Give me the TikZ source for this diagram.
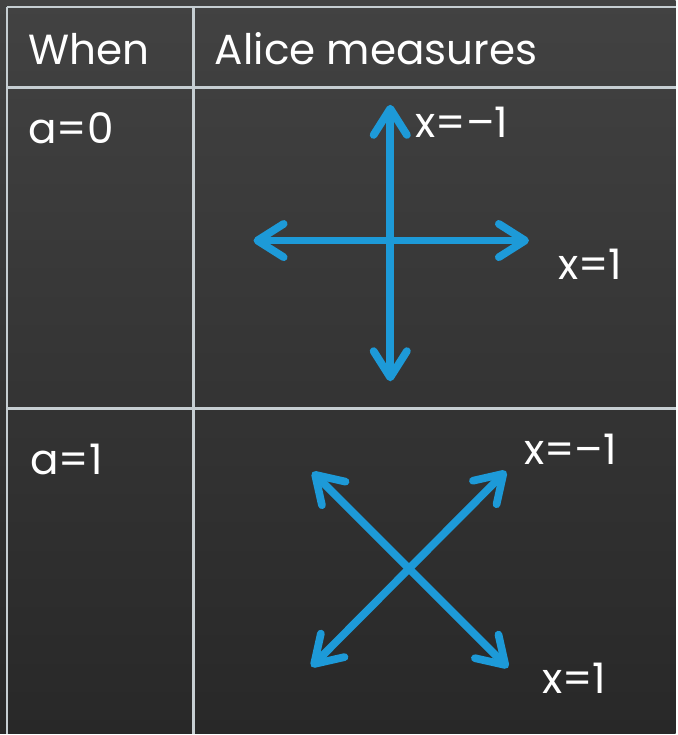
\documentclass[tikz,border=0pt]{standalone}
\usepackage{fontspec}
\setmainfont{Poppins}
\usepackage{tikz}
\usetikzlibrary{arrows.meta}
\definecolor{boardtop}{HTML}{424242}
\definecolor{boardlow}{HTML}{282828}
\definecolor{chalk}{HTML}{C6CED2}
\definecolor{beam}{HTML}{1D9AD8}

\begin{document}
\begin{tikzpicture}[x=0.02cm,y=-0.02cm,>={Straight Barb[round,length=15pt,width=19pt]},
  rulestyle/.style={chalk,line width=1.6pt},
  beamstyle/.style={<->,beam,line width=4.4pt,line cap=round},
  lab/.style={white,inner sep=0pt,anchor=base west,font=\fontsize{24}{28}\selectfont}]
  % board and table rules
  \shade[top color=boardtop,bottom color=boardlow] (0,0) rectangle (677,735);
  \foreach \y in {7,88,409}
    \draw[rulestyle] (7,\y) -- (677,\y);
  \foreach \x in {7,194}
    \draw[rulestyle] (\x,7) -- (\x,735);
  % header and row labels
  \node[lab] (when) at (28,65) {When};
  \node[lab] (alice) at (215,65) {Alice measures};
  \node[lab] (azero) at (28,144) {a=0};
  \node[lab] (aone) at (30,475) {a=1};
  % a=0 basis
  \coordinate (up) at (391,105);
  \coordinate (dn) at (391,382);
  \coordinate (lt) at (254,241);
  \coordinate (rt) at (530,241);
  \draw[beamstyle] (up) -- (dn);
  \draw[beamstyle] (lt) -- (rt);
  \node[lab] (zminus) at (416,138) {x=–1};
  \node[lab] (zplus) at (559,280) {x=1};
  % a=1 basis
  \coordinate (ul) at (313,473);
  \coordinate (lr) at (509,669);
  \coordinate (ur) at (507,472);
  \coordinate (ll) at (312,668);
  \draw[beamstyle] (ul) -- (lr);
  \draw[beamstyle] (ll) -- (ur);
  \node[lab] (ominus) at (525,465) {x=–1};
  \node[lab] (oplus) at (543,695) {x=1};
\end{tikzpicture}
\end{document}
